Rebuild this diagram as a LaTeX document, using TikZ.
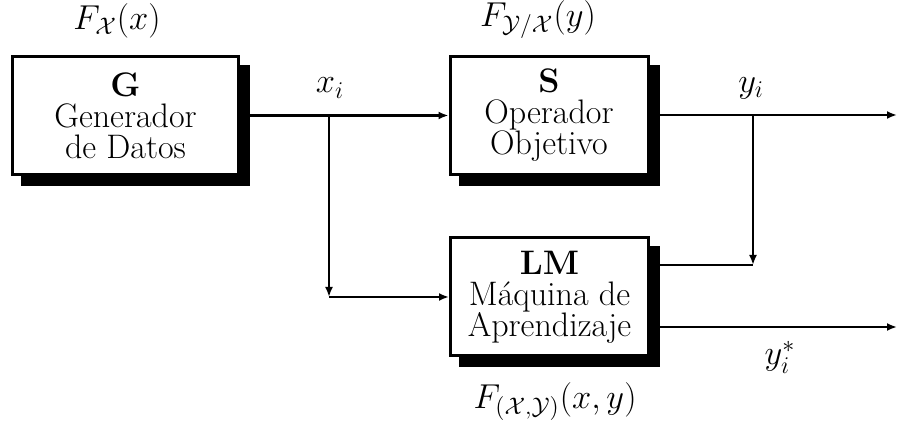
\documentclass[tikz,border=0pt]{standalone}
\usetikzlibrary{arrows.meta,shadows}
\tikzset{
  bloque/.style={draw, line width=1.5pt, fill=white, align=center,
    minimum height=59pt, inner sep=0pt,
    font=\fontsize{17}{15.5}\selectfont,
    drop shadow={shadow xshift=5pt, shadow yshift=-5pt, fill=black, draw=black, opacity=1}},
  etiqueta/.style={font=\fontsize{16.8}{16.8}\selectfont},
  linea/.style={line width=1.2pt},
  flecha/.style={line width=1.2pt, -{Latex[length=5pt,width=4pt]}}
}
\begin{document}
\begin{tikzpicture}[x=0.5pt,y=-0.5pt]
		%%%%% START %%%%%
		\useasboundingbox (0,0) rectangle (898,421);
		
		\node[bloque, minimum width=113pt] (G) at (125.5,115.5) {\textbf{G}\\Generador\\de Datos};
		\node[bloque, minimum width=99pt] (S) at (549,115.5) {\textbf{S}\\Operador\\Objetivo};
		\node[bloque, minimum width=99pt] (LM) at (549.5,297) {\textbf{LM}\\M\'aquina de\\Aprendizaje};
		
		\node[etiqueta] (fx) at (117,21) {$F_{\mathcal{X}}(x)$};
		\node[etiqueta] (fyx) at (538,20) {$F_{\mathcal{Y}/\mathcal{X}}(y)$};
		\node[etiqueta] (fxy) at (555,402) {$F_{(\mathcal{X},\mathcal{Y})}(x,y)$};
		\node[etiqueta] (xi) at (330,88) {$x_i$};
		\node[etiqueta] (yi) at (751,88) {$y_i$};
		\node[etiqueta] (yie) at (780,357) {$y_i^*$};
		
		\coordinate (bx) at (329,115);
		\coordinate (bxl) at (bx |- LM.west);
		\coordinate (by) at (753,115);
		\coordinate (ry) at (753,265);
		\coordinate (sal1) at (897,115);
		\coordinate (sal2) at (897,327);
		
		\draw[flecha] (G.east) -- (S.west);
		\draw[flecha] (bx) -- (bxl);
		\draw[flecha] (bxl) -- (LM.west);
		\draw[flecha] (S.east |- sal1) -- (sal1);
		\draw[flecha] (by) -- (ry);
		\draw[linea] (LM.east |- ry) -- (ry);
		\draw[flecha] (LM.east |- sal2) -- (sal2);
		%%%%% END %%%%%
\end{tikzpicture}
\end{document}
